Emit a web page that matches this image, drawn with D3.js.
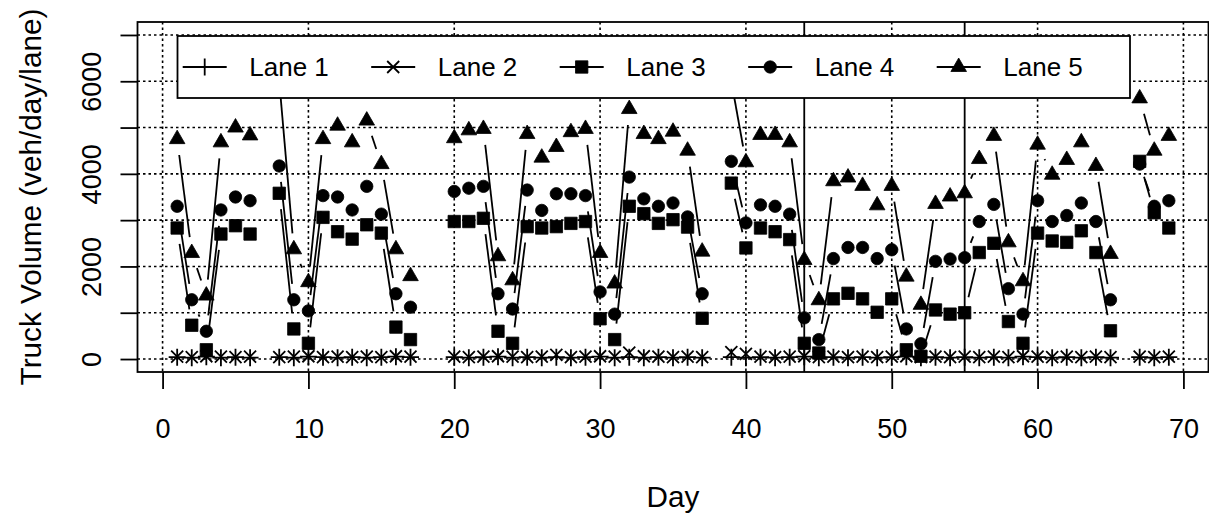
<!DOCTYPE html>
<html>
<head>
<meta charset="utf-8">
<script src="https://cdn.jsdelivr.net/npm/d3@7"></script>
<style>
  body { margin: 0; background: #fff; }
  svg { display: block; font-family: "Liberation Sans", Arial, Helvetica, sans-serif; }
</style>
</head>
<body>
<svg id="chart" width="1209" height="514"></svg>
<script>
// ---------------------------
// Truck volume per lane, type "b" plot (points + gapped lines)
// ---------------------------

// days 1..69 (null = no record that day)
const days = [1,2,3,4,5,6,7,8,9,10,11,12,13,14,15,16,17,18,19,20,
  21,22,23,24,25,26,27,28,29,30,31,32,33,34,35,36,37,38,39,40,
  41,42,43,44,45,46,47,48,49,50,51,52,53,54,55,56,57,58,59,60,
  61,62,63,64,65,66,67,68,69];

const lane1 = [40,30,50,30,40,30,null,40,30,50,40,30,40,30,40,50,40,null,null,40,
  30,40,50,30,40,30,40,30,40,50,30,40,30,40,30,40,30,null,40,30,
  40,30,40,50,30,40,30,40,30,40,50,30,40,30,40,30,40,30,50,40,
  30,40,30,40,30,null,40,30,40];

const lane2 = [50,40,60,50,40,50,null,40,50,60,40,50,40,50,40,60,50,null,null,50,
  40,50,60,50,40,50,90,40,50,60,50,140,60,50,40,50,40,null,150,110,
  50,40,50,60,40,50,40,50,40,50,60,40,50,40,50,40,50,40,60,50,
  40,50,40,50,40,null,50,40,50];

const lane3 = [2830,730,200,2700,2880,2700,null,3580,650,340,3060,2750,2590,2900,2720,690,420,null,null,2970,
  2970,3040,600,340,2860,2830,2860,2930,2970,870,420,3300,3140,2930,3010,2850,880,null,3800,2400,
  2830,2750,2580,340,130,1300,1420,1300,1010,1300,200,60,1060,970,1000,2300,2500,810,340,2720,
  2550,2520,2770,2300,610,null,4270,3160,2830];

const lane4 = [3300,1280,600,3220,3500,3420,null,4170,1280,1040,3530,3500,3220,3730,3130,1410,1120,null,null,3620,
  3690,3730,1410,1080,3650,3210,3570,3570,3530,1450,970,3930,3460,3300,3370,3070,1410,null,4270,2940,
  3330,3300,3130,890,420,2170,2410,2410,2170,2360,650,330,2110,2160,2190,2970,3340,1520,970,3420,
  2970,3100,3370,2970,1280,null,4210,3300,3420];

const lane5 = [4750,2290,1370,4680,5000,4830,null,6000,2370,1660,4750,5040,4680,5150,4210,2370,1790,null,null,4770,
  4940,4970,2220,1700,4860,4350,4580,4900,4970,2290,1630,5400,4860,4750,4910,4500,2320,null,6000,4250,
  4840,4840,4680,2140,1270,3840,3920,3740,3320,3740,1780,1170,3350,3510,3580,4320,4820,2520,1680,4630,
  3980,4300,4680,4170,2270,null,5630,4500,4820];

const laneNames = ["Lane 1", "Lane 2", "Lane 3", "Lane 4", "Lane 5"];
const laneSymbols = ["plus", "cross", "square", "circle", "triangle"];
const xTicks = [0,10,20,30,40,50,60,70];
const yTicks = [0,1000,2000,3000,4000,5000,6000,7000];
const yTickLabels = ["0","","2000","","4000","","6000",""];
const markerDays = [44, 55];

const series = [lane1, lane2, lane3, lane4, lane5];

const svg = d3.select("#chart");
const FS = 27;      // tick labels
const FS_LAB = 29.7; // axis titles
const LW = 1.8;

// plot region (R style 4% padding on the data range)
const x = d3.scaleLinear().domain([-1.72, 71.72]).range([137.5, 1208.5]);
const y = d3.scaleLinear().domain([-280, 7280]).range([372, 22]);

// grid (dotted)
const grid = svg.append("g").attr("stroke", "#000").attr("stroke-width", 1.6).attr("stroke-dasharray", "2.5,3");
grid.selectAll(".gy").data(yTicks).enter().append("line")
  .attr("x1", x.range()[0]).attr("x2", x.range()[1])
  .attr("y1", d => y(d)).attr("y2", d => y(d));
grid.selectAll(".gx").data(xTicks).enter().append("line")
  .attr("x1", d => x(d)).attr("x2", d => x(d))
  .attr("y1", y.range()[1]).attr("y2", y.range()[0]);

// symbol shapes, R pch 3, 4, 15, 16, 17
function symbolPath(kind) {
  switch (kind) {
    case "plus": return "M-8.5,0H8.5M0,-8.5V8.5";
    case "cross": return "M-6,-6L6,6M-6,6L6,-6";
    case "square": return "M-6.2,-6.2H6.2V6.2H-6.2Z";
    case "circle": return "M6.2,0A6.2,6.2 0 1,1 -6.2,0A6.2,6.2 0 1,1 6.2,0Z";
    case "triangle": return "M0,-9L7.8,4.5L-7.8,4.5Z";
  }
}
const filled = k => k === "square" || k === "circle" || k === "triangle";

// type "b" lines: segments trimmed near each point
const GAP = 16;
const dataG = svg.append("g");
series.forEach((vals, si) => {
  const g = dataG.append("g");
  const segs = [];
  for (let i = 0; i < days.length - 1; i++) {
    if (vals[i] == null || vals[i + 1] == null) continue;
    const x0 = x(days[i]), y0 = y(vals[i]), x1 = x(days[i + 1]), y1 = y(vals[i + 1]);
    const len = Math.hypot(x1 - x0, y1 - y0);
    if (len <= 2 * GAP) continue;
    const ux = (x1 - x0) / len, uy = (y1 - y0) / len;
    segs.push([x0 + ux * GAP, y0 + uy * GAP, x1 - ux * GAP, y1 - uy * GAP]);
  }
  g.selectAll("line").data(segs).enter().append("line")
    .attr("x1", d => d[0]).attr("y1", d => d[1])
    .attr("x2", d => d[2]).attr("y2", d => d[3])
    .attr("stroke", "#000").attr("stroke-width", LW);

  const kind = laneSymbols[si];
  const pts = days.map((d, i) => ({ d, v: vals[i] })).filter(p => p.v != null);
  g.selectAll("path").data(pts).enter().append("path")
    .attr("transform", p => `translate(${x(p.d)},${y(p.v)})`)
    .attr("d", symbolPath(kind))
    .attr("fill", filled(kind) ? "#000" : "none")
    .attr("stroke", "#000")
    .attr("stroke-width", filled(kind) ? 0.8 : LW);
});

// vertical reference lines
svg.selectAll(".vref").data(markerDays).enter().append("line")
  .attr("x1", d => x(d)).attr("x2", d => x(d))
  .attr("y1", y.range()[1]).attr("y2", y.range()[0])
  .attr("stroke", "#000").attr("stroke-width", LW);

// axes
const xAxis = svg.append("g")
  .attr("transform", `translate(0,${y.range()[0]})`)
  .call(d3.axisBottom(x).tickValues(xTicks).tickSize(17).tickSizeOuter(0).tickPadding(30));
xAxis.select(".domain").remove();
xAxis.selectAll("line").attr("stroke-width", LW);
xAxis.selectAll("text").attr("font-size", FS).attr("font-family", null).attr("fill", "#000");

const yAxis = svg.append("g")
  .attr("transform", `translate(${x.range()[0]},0)`)
  .call(d3.axisLeft(y).tickValues(yTicks).tickSize(17).tickSizeOuter(0)
    .tickFormat((d, i) => yTickLabels[i]));
yAxis.select(".domain").remove();
yAxis.selectAll("line").attr("stroke-width", LW);
// rotated tick labels, parallel to the axis
yAxis.selectAll("text")
  .attr("font-size", FS).attr("font-family", null).attr("fill", "#000")
  .attr("text-anchor", "middle")
  .attr("transform", "rotate(-90)")
  .attr("x", 0).attr("y", -46.5).attr("dy", "0.36em");

// box
svg.append("rect")
  .attr("x", x.range()[0]).attr("y", y.range()[1])
  .attr("width", x.range()[1] - x.range()[0]).attr("height", y.range()[0] - y.range()[1])
  .attr("fill", "none").attr("stroke", "#000").attr("stroke-width", LW);

// axis titles
svg.append("text")
  .attr("x", (x.range()[0] + x.range()[1]) / 2).attr("y", 507)
  .attr("text-anchor", "middle").attr("font-size", FS_LAB).text("Day");
svg.append("text")
  .attr("transform", `translate(41,${(y.range()[0] + y.range()[1]) / 2}) rotate(-90)`)
  .attr("text-anchor", "middle").attr("font-size", FS_LAB).text("Truck Volume (veh/day/lane)");

// legend (horizontal, drawn last so it covers the data)
const legend = svg.append("g");
legend.append("rect")
  .attr("x", 177.5).attr("y", 36).attr("width", 952.5).attr("height", 62)
  .attr("fill", "#fff").attr("stroke", "#000").attr("stroke-width", LW);
const legItems = legend.selectAll(".item").data(laneNames).enter().append("g")
  .attr("transform", (d, i) => `translate(${182.7 + i * 188.5},67)`);
legItems.append("line").attr("x1", 0).attr("x2", 44).attr("y1", 0).attr("y2", 0)
  .attr("stroke", "#000").attr("stroke-width", LW);
legItems.append("path")
  .attr("transform", "translate(22,0)")
  .attr("d", (d, i) => symbolPath(laneSymbols[i]))
  .attr("fill", (d, i) => filled(laneSymbols[i]) ? "#000" : "none")
  .attr("stroke", "#000")
  .attr("stroke-width", (d, i) => filled(laneSymbols[i]) ? 0.8 : LW);
legItems.append("text")
  .attr("x", 66.6).attr("y", 0).attr("dy", "0.36em")
  .attr("font-size", 26).text(d => d);

</script>
</body>
</html>
